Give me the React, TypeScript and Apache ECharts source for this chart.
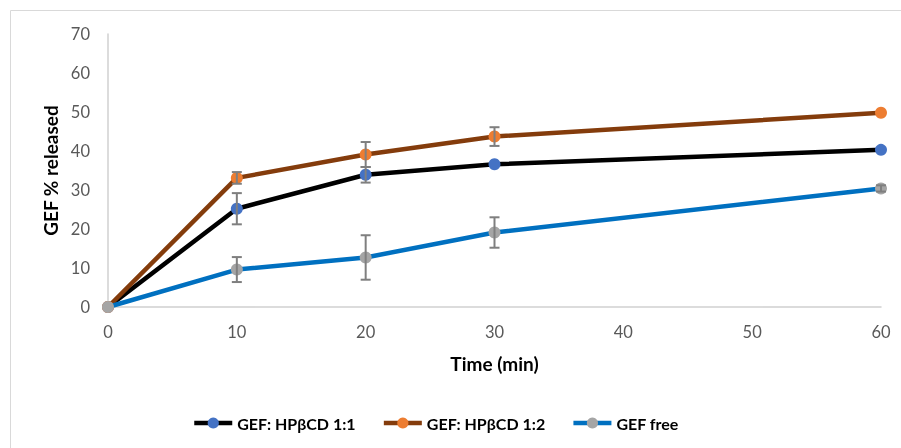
import React, { useEffect, useRef } from "react";
import * as echarts from "echarts";

const timeMin = [0, 10, 20, 30, 60];
const s1Name = "GEF: HPβCD 1:1";
const s2Name = "GEF: HPβCD 1:2";
const s3Name = "GEF free";
const s1Values = [0, 25.2, 33.9, 36.6, 40.3];
const s2Values = [0, 33.1, 39.1, 43.7, 49.8];
const s3Values = [0, 9.6, 12.7, 19.1, 30.4];
const s1Err = [0, 4.0, 2.0, 0, 0];
const s2Err = [0, 1.5, 3.2, 2.4, 0];
const s3Err = [0, 3.2, 5.7, 3.9, 0.8];
const xTicks = [0, 10, 20, 30, 40, 50, 60];
const yTicks = [0, 10, 20, 30, 40, 50, 60, 70];

const FONT = "Lato, 'Open Sans', sans-serif";

export default function App() {
  const ref = useRef<HTMLDivElement>(null);
  useEffect(() => {
    document.body.style.margin = "0";
    const chart = echarts.init(ref.current!, null, { renderer: "svg" });
    const errData: number[][] = [];
    [s1Values, s2Values, s3Values].forEach((vals, si) => {
      const errs = [s1Err, s2Err, s3Err][si];
      vals.forEach((v, i) => {
        if (errs[i] > 0) errData.push([timeMin[i], v - errs[i], v + errs[i]]);
      });
    });
    const mkLine = (name: string, vals: number[], lineColor: string, markerColor: string, z: number) => ({
      name,
      type: "line",
      data: timeMin.map((t, i) => [t, vals[i]]),
      symbol: "circle",
      symbolSize: 12,
      z,
      lineStyle: { color: lineColor, width: 4.5 },
      itemStyle: { color: markerColor },
      color: lineColor,
    });
    chart.setOption({
      animation: false,
      textStyle: { fontFamily: FONT },
      grid: { left: 108, right: 20, top: 34, bottom: 141 },
      xAxis: {
        type: "value",
        min: 0,
        max: 60,
        interval: 10,
        name: "Time (min)",
        nameLocation: "middle",
        nameGap: 47,
        nameTextStyle: { fontSize: 19, fontWeight: "bold", color: "#000", fontFamily: FONT },
        axisLine: { show: true, lineStyle: { color: "#d0d0d0", width: 1.5 } },
        axisTick: { show: false },
        splitLine: { show: false },
        axisLabel: {
          color: "#595959",
          fontSize: 16.5,
          margin: 16,
          fontFamily: FONT,
          customValues: xTicks,
        },
      },
      yAxis: {
        type: "value",
        min: 0,
        max: 70,
        interval: 10,
        name: "GEF % released",
        nameLocation: "middle",
        nameGap: 47,
        nameTextStyle: { fontSize: 19, fontWeight: "bold", color: "#000", fontFamily: FONT },
        axisLine: { show: true, lineStyle: { color: "#d0d0d0", width: 1.5 } },
        axisTick: { show: false },
        splitLine: { show: false },
        axisLabel: { color: "#595959", fontSize: 16.5, margin: 18, fontFamily: FONT, customValues: yTicks },
      },
      legend: {
        bottom: 12,
        left: 187,
        itemWidth: 38,
        itemHeight: 14,
        itemGap: 26,
        lineStyle: { width: 4.5 },
        textStyle: { fontSize: 16, fontWeight: "bold", color: "#000", fontFamily: FONT },
        data: [s1Name, s2Name, s3Name],
      },
      graphic: [
        {
          type: "rect",
          shape: { x: 10.5, y: 10.5, width: 1000, height: 1000 },
          style: { fill: "none", stroke: "#d9d9d9", lineWidth: 1 },
          silent: true,
        },
      ],
      series: [
        mkLine(s1Name, s1Values, "#000000", "#4472C4", 2),
        mkLine(s2Name, s2Values, "#843C0C", "#ED7D31", 3),
        mkLine(s3Name, s3Values, "#0070C0", "#A5A5A5", 4),
        {
          type: "custom",
          z: 5,
          silent: true,
          data: errData,
          encode: { x: 0, y: [1, 2] },
          renderItem: (params: any, api: any) => {
            const x = api.value(0);
            const lo = api.coord([x, api.value(1)]);
            const hi = api.coord([x, api.value(2)]);
            const cw = 5;
            const st = { stroke: "#7f7f7f", lineWidth: 2 };
            return {
              type: "group",
              children: [
                { type: "line", shape: { x1: lo[0], y1: lo[1], x2: hi[0], y2: hi[1] }, style: st },
                { type: "line", shape: { x1: lo[0] - cw, y1: lo[1], x2: lo[0] + cw, y2: lo[1] }, style: st },
                { type: "line", shape: { x1: hi[0] - cw, y1: hi[1], x2: hi[0] + cw, y2: hi[1] }, style: st },
              ],
            };
          },
        },
      ],
    });
    return () => chart.dispose();
  }, []);
  return <div ref={ref} style={{ position: "fixed", left: 0, top: 0, width: 901, height: 448 }} />;
}
